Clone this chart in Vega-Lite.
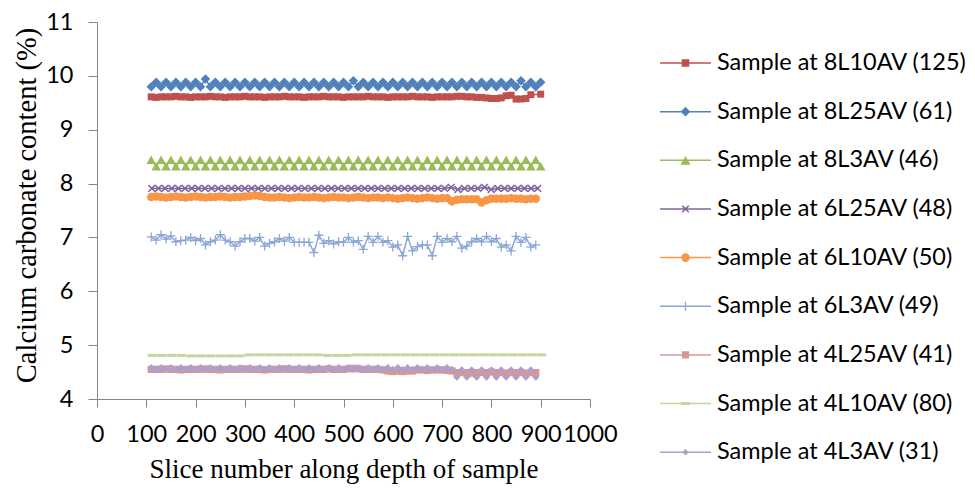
{
"$schema": "https://vega.github.io/schema/vega-lite/v6.json",
"width": 493, "height": 377,
"autosize": {"type": "none"},
"padding": {"left": 97, "top": 22, "right": 385, "bottom": 90},
"background": "white",
"config": {"view": {"stroke": null}},
"data": {"values": [
{"x":110,"a":9.61,"b":9.80,"c":8.44,"e":7.75,"f":7.01,"g":4.55,"i":4.58},
{"x":120,"a":9.60,"b":9.88,"c":8.32,"e":7.76,"f":6.95,"g":4.55,"i":4.55},
{"x":130,"a":9.61,"b":9.80,"c":8.44,"e":7.75,"f":7.05,"g":4.55,"i":4.58},
{"x":140,"a":9.61,"b":9.88,"c":8.32,"e":7.74,"f":6.97,"g":4.56,"i":4.55},
{"x":150,"a":9.61,"b":9.80,"c":8.44,"e":7.75,"f":7.03,"g":4.55,"i":4.58},
{"x":160,"a":9.62,"b":9.88,"c":8.32,"e":7.76,"f":6.92,"g":4.55,"i":4.55},
{"x":170,"a":9.61,"b":9.80,"c":8.44,"e":7.75,"f":6.94,"g":4.54,"i":4.58},
{"x":180,"a":9.61,"b":9.88,"c":8.32,"e":7.74,"f":6.95,"g":4.55,"i":4.55},
{"x":190,"a":9.60,"b":9.80,"c":8.44,"e":7.75,"f":7.00,"g":4.55,"i":4.58},
{"x":200,"a":9.61,"b":9.88,"c":8.32,"e":7.76,"f":6.94,"g":4.55,"i":4.55},
{"x":210,"a":9.61,"b":9.80,"c":8.44,"e":7.75,"f":6.98,"g":4.55,"i":4.58},
{"x":220,"a":9.61,"b":9.94,"c":8.32,"e":7.74,"f":6.86,"g":4.56,"i":4.55},
{"x":230,"a":9.62,"b":9.80,"c":8.44,"e":7.75,"f":6.92,"g":4.55,"i":4.58},
{"x":240,"a":9.61,"b":9.88,"c":8.32,"e":7.75,"f":6.95,"g":4.55,"i":4.55},
{"x":250,"a":9.61,"b":9.80,"c":8.44,"e":7.76,"f":7.05,"g":4.54,"i":4.58},
{"x":260,"a":9.60,"b":9.88,"c":8.32,"e":7.75,"f":6.95,"g":4.55,"i":4.55},
{"x":270,"a":9.61,"b":9.80,"c":8.44,"e":7.74,"f":6.92,"g":4.55,"i":4.58},
{"x":280,"a":9.61,"b":9.88,"c":8.32,"e":7.75,"f":6.84,"g":4.55,"i":4.55},
{"x":290,"a":9.61,"b":9.80,"c":8.44,"e":7.75,"f":6.92,"g":4.55,"i":4.58},
{"x":300,"a":9.62,"b":9.88,"c":8.32,"e":7.76,"f":6.98,"g":4.56,"i":4.55},
{"x":310,"a":9.61,"b":9.80,"c":8.44,"e":7.77,"f":6.98,"g":4.55,"i":4.58},
{"x":320,"a":9.61,"b":9.88,"c":8.32,"e":7.78,"f":6.93,"g":4.55,"i":4.55},
{"x":330,"a":9.61,"b":9.80,"c":8.44,"e":7.77,"f":7.00,"g":4.55,"i":4.58},
{"x":340,"a":9.60,"b":9.88,"c":8.32,"e":7.75,"f":6.84,"g":4.54,"i":4.55},
{"x":350,"a":9.61,"b":9.80,"c":8.44,"e":7.74,"f":6.89,"g":4.55,"i":4.58},
{"x":360,"a":9.61,"b":9.88,"c":8.32,"e":7.74,"f":6.92,"g":4.55,"i":4.55},
{"x":370,"a":9.61,"b":9.80,"c":8.44,"e":7.75,"f":6.98,"g":4.55,"i":4.58},
{"x":380,"a":9.62,"b":9.88,"c":8.32,"e":7.74,"f":6.93,"g":4.56,"i":4.55},
{"x":390,"a":9.61,"b":9.80,"c":8.44,"e":7.73,"f":7.00,"g":4.55,"i":4.58},
{"x":400,"a":9.61,"b":9.88,"c":8.32,"e":7.74,"f":6.91,"g":4.55,"i":4.55},
{"x":410,"a":9.61,"b":9.80,"c":8.44,"e":7.75,"f":6.91,"g":4.55,"i":4.58},
{"x":420,"a":9.60,"b":9.88,"c":8.32,"e":7.74,"f":6.91,"g":4.55,"i":4.55},
{"x":430,"a":9.61,"b":9.80,"c":8.44,"e":7.74,"f":6.91,"g":4.54,"i":4.58},
{"x":440,"a":9.61,"b":9.88,"c":8.32,"e":7.75,"f":6.72,"g":4.55,"i":4.55},
{"x":450,"a":9.61,"b":9.80,"c":8.44,"e":7.74,"f":7.04,"g":4.55,"i":4.58},
{"x":460,"a":9.62,"b":9.88,"c":8.32,"e":7.73,"f":6.89,"g":4.55,"i":4.55},
{"x":470,"a":9.61,"b":9.80,"c":8.44,"e":7.74,"f":6.94,"g":4.56,"i":4.58},
{"x":480,"a":9.61,"b":9.88,"c":8.32,"e":7.75,"f":6.88,"g":4.55,"i":4.55},
{"x":490,"a":9.61,"b":9.80,"c":8.44,"e":7.74,"f":6.92,"g":4.55,"i":4.58},
{"x":500,"a":9.60,"b":9.88,"c":8.32,"e":7.74,"f":6.91,"g":4.55,"i":4.55},
{"x":510,"a":9.61,"b":9.80,"c":8.44,"e":7.73,"f":7.00,"g":4.56,"i":4.58},
{"x":520,"a":9.61,"b":9.91,"c":8.32,"e":7.74,"f":6.91,"g":4.57,"i":4.55},
{"x":530,"a":9.61,"b":9.80,"c":8.44,"e":7.75,"f":6.94,"g":4.56,"i":4.58},
{"x":540,"a":9.61,"b":9.88,"c":8.32,"e":7.74,"f":6.78,"g":4.55,"i":4.55},
{"x":550,"a":9.62,"b":9.80,"c":8.44,"e":7.73,"f":7.02,"g":4.55,"i":4.58},
{"x":560,"a":9.61,"b":9.88,"c":8.32,"e":7.74,"f":6.91,"g":4.55,"i":4.55},
{"x":570,"a":9.61,"b":9.80,"c":8.44,"e":7.74,"f":7.02,"g":4.55,"i":4.58},
{"x":580,"a":9.61,"b":9.88,"c":8.32,"e":7.73,"f":6.91,"g":4.54,"i":4.55},
{"x":590,"a":9.60,"b":9.80,"c":8.44,"e":7.74,"f":6.94,"g":4.52,"i":4.58},
{"x":600,"a":9.61,"b":9.88,"c":8.32,"e":7.73,"f":6.82,"g":4.51,"i":4.55},
{"x":610,"a":9.61,"b":9.80,"c":8.44,"e":7.72,"f":6.86,"g":4.52,"i":4.58},
{"x":620,"a":9.61,"b":9.88,"c":8.32,"e":7.73,"f":6.66,"g":4.51,"i":4.55},
{"x":630,"a":9.61,"b":9.80,"c":8.44,"e":7.74,"f":7.02,"g":4.52,"i":4.58},
{"x":640,"a":9.62,"b":9.88,"c":8.32,"e":7.73,"f":6.75,"g":4.52,"i":4.55},
{"x":650,"a":9.61,"b":9.80,"c":8.44,"e":7.72,"f":6.83,"g":4.54,"i":4.58},
{"x":660,"a":9.61,"b":9.88,"c":8.32,"e":7.73,"f":6.86,"g":4.54,"i":4.55},
{"x":670,"a":9.61,"b":9.80,"c":8.44,"e":7.74,"f":6.86,"g":4.53,"i":4.58},
{"x":680,"a":9.60,"b":9.88,"c":8.32,"e":7.73,"f":6.66,"g":4.54,"i":4.55},
{"x":690,"a":9.61,"b":9.80,"c":8.44,"e":7.72,"f":7.02,"g":4.54,"i":4.58},
{"x":700,"a":9.61,"b":9.88,"c":8.32,"e":7.73,"f":6.91,"g":4.54,"i":4.55},
{"x":710,"a":9.61,"b":9.80,"c":8.44,"e":7.73,"f":6.98,"g":4.53,"i":4.58},
{"x":720,"a":9.61,"b":9.88,"c":8.32,"e":7.67,"f":6.92,"g":4.52,"i":4.55},
{"x":730,"a":9.62,"b":9.80,"c":8.44,"e":7.70,"f":7.02,"g":4.49,"i":4.41},
{"x":740,"a":9.62,"b":9.88,"c":8.32,"e":7.71,"f":6.80,"g":4.49,"i":4.54},
{"x":750,"a":9.61,"b":9.80,"c":8.44,"e":7.71,"f":6.84,"g":4.49,"i":4.41},
{"x":760,"a":9.61,"b":9.88,"c":8.32,"e":7.71,"f":6.92,"g":4.48,"i":4.54},
{"x":770,"a":9.60,"b":9.80,"c":8.44,"e":7.71,"f":6.98,"g":4.49,"i":4.41},
{"x":780,"a":9.60,"b":9.88,"c":8.32,"e":7.65,"f":6.92,"g":4.49,"i":4.54},
{"x":790,"a":9.59,"b":9.80,"c":8.44,"e":7.69,"f":7.02,"g":4.49,"i":4.41},
{"x":800,"a":9.58,"b":9.88,"c":8.32,"e":7.72,"f":6.92,"g":4.50,"i":4.54},
{"x":810,"a":9.58,"b":9.80,"c":8.44,"e":7.72,"f":6.98,"g":4.49,"i":4.41},
{"x":820,"a":9.59,"b":9.88,"c":8.32,"e":7.72,"f":6.82,"g":4.49,"i":4.54},
{"x":830,"a":9.63,"b":9.80,"c":8.44,"e":7.72,"f":6.86,"g":4.48,"i":4.41},
{"x":840,"a":9.64,"b":9.88,"c":8.32,"e":7.73,"f":6.75,"g":4.49,"i":4.54},
{"x":850,"a":9.57,"b":9.80,"c":8.44,"e":7.72,"f":7.02,"g":4.49,"i":4.41},
{"x":860,"a":9.57,"b":9.91,"c":8.32,"e":7.72,"f":6.91,"g":4.49,"i":4.54},
{"x":870,"a":9.58,"b":9.80,"c":8.44,"e":7.71,"f":7.00,"g":4.48,"i":4.41},
{"x":880,"a":9.65,"b":9.88,"c":8.32,"e":7.72,"f":6.82,"g":4.49,"i":4.54},
{"x":890,"b":9.80,"c":8.44,"e":7.72,"f":6.86,"g":4.49,"i":4.41},
{"x":900,"a":9.66,"b":9.88,"c":8.32},
{"x":111,"d":7.91},{"x":124.5,"d":7.91},{"x":138,"d":7.91},{"x":151.5,"d":7.91},{"x":165,"d":7.91},{"x":178.5,"d":7.91},{"x":192,"d":7.91},{"x":205.5,"d":7.91},{"x":219,"d":7.91},{"x":232.5,"d":7.91},{"x":246,"d":7.91},{"x":259.5,"d":7.91},{"x":273,"d":7.91},{"x":286.5,"d":7.91},{"x":300,"d":7.91},{"x":313.5,"d":7.91},{"x":327,"d":7.91},{"x":340.5,"d":7.91},{"x":354,"d":7.91},{"x":367.5,"d":7.91},{"x":381,"d":7.91},{"x":394.5,"d":7.91},{"x":408,"d":7.91},{"x":421.5,"d":7.91},{"x":435,"d":7.91},{"x":448.5,"d":7.91},{"x":462,"d":7.91},{"x":475.5,"d":7.91},{"x":489,"d":7.91},{"x":502.5,"d":7.91},{"x":516,"d":7.91},{"x":529.5,"d":7.91},{"x":543,"d":7.91},{"x":556.5,"d":7.91},{"x":570,"d":7.91},{"x":583.5,"d":7.91},{"x":597,"d":7.91},{"x":610.5,"d":7.91},{"x":624,"d":7.91},{"x":637.5,"d":7.91},{"x":651,"d":7.91},{"x":664.5,"d":7.91},{"x":678,"d":7.91},{"x":691.5,"d":7.91},{"x":705,"d":7.91},{"x":718.5,"d":7.93},{"x":732,"d":7.89},{"x":745.5,"d":7.91},{"x":759,"d":7.91},{"x":772.5,"d":7.91},{"x":786,"d":7.93},{"x":799.5,"d":7.89},{"x":813,"d":7.91},{"x":826.5,"d":7.91},{"x":840,"d":7.91},{"x":853.5,"d":7.91},{"x":867,"d":7.91},{"x":880.5,"d":7.91},{"x":894,"d":7.91},
{"x":112,"h":4.81},{"x":131.75,"h":4.81},{"x":151.5,"h":4.81},{"x":171.25,"h":4.81},{"x":191,"h":4.80},{"x":210.75,"h":4.80},{"x":230.5,"h":4.80},{"x":250.25,"h":4.80},{"x":270,"h":4.80},{"x":289.75,"h":4.80},{"x":309.5,"h":4.82},{"x":329.25,"h":4.82},{"x":349,"h":4.82},{"x":368.75,"h":4.82},{"x":388.5,"h":4.82},{"x":408.25,"h":4.82},{"x":428,"h":4.82},{"x":447.75,"h":4.82},{"x":467.5,"h":4.81},{"x":487.25,"h":4.81},{"x":507,"h":4.81},{"x":526.75,"h":4.82},{"x":546.5,"h":4.82},{"x":566.25,"h":4.82},{"x":586,"h":4.82},{"x":605.75,"h":4.82},{"x":625.5,"h":4.82},{"x":645.25,"h":4.82},{"x":665,"h":4.82},{"x":684.75,"h":4.82},{"x":704.5,"h":4.82},{"x":724.25,"h":4.82},{"x":744,"h":4.82},{"x":763.75,"h":4.82},{"x":783.5,"h":4.82},{"x":803.25,"h":4.82},{"x":823,"h":4.82},{"x":842.75,"h":4.82},{"x":862.5,"h":4.82},{"x":882.25,"h":4.82},{"x":902,"h":4.82}
]},
"transform": [
  {"fold": ["a","b","c","d","e","f","g","h","i"], "as": ["s","v"]},
  {"filter": "isValid(datum.v)"}
],
"encoding": {
  "x": {"field": "x", "type": "quantitative",
    "scale": {"domain": [0,1000], "nice": false},
    "axis": {"values": [0,100,200,300,400,500,600,700,800,900,1000], "format": "d", "title": "Slice number along depth of sample", "grid": false,
      "domainColor": "#868686", "tickColor": "#868686", "tickSize": 8, "domainWidth": 1, "tickWidth": 1,
      "labelFont": "Lato", "labelFontSize": 23.5, "labelColor": "#000", "labelPadding": 15, "labelFlush": false, "labelOverlap": false,
      "titleFont": "Liberation Serif", "titleFontSize": 27, "titleFontWeight": "normal", "titleColor": "#000", "titleBaseline": "alphabetic", "titleY": 78}},
  "y": {"field": "v", "type": "quantitative",
    "scale": {"domain": [4,11], "nice": false, "zero": false},
    "axis": {"values": [4,5,6,7,8,9,10,11], "title": "Calcium carbonate content (%)", "grid": false,
      "domainColor": "#868686", "tickColor": "#868686", "tickSize": 9, "domainWidth": 1, "tickWidth": 1,
      "labelFont": "Lato", "labelFontSize": 23.5, "labelColor": "#000", "labelPadding": 15, "labelFlush": false, "labelOverlap": false,
      "titleFont": "Liberation Serif", "titleFontSize": 28.5, "titleFontWeight": "normal", "titleColor": "#000", "titleBaseline": "alphabetic", "titleAngle": -90, "titleX": -62, "titleY": 183}},
  "color": {"field": "s", "type": "nominal",
    "scale": {"domain": ["a","b","c","d","e","f","g","h","i"], "range": ["#C0504D","#4F81BD","#9BBB59","#8064A2","#F79646","#8CA6D6","#D99694","#C3D69B","#AE9FCB"]},
    "legend": {"orient": "none", "legendX": 568.5, "legendY": 21, "title": null, "padding": 0,
      "labelFont": "Lato", "labelFontSize": 23.5, "labelColor": "#000", "labelLimit": 0, "labelOffset": 11.5, "rowPadding": 16.65,
      "symbolSize": 1600, "symbolStrokeWidth": 0,
      "labelExpr": "{'a':'Sample at 8L10AV (125)','b':'Sample at 8L25AV (61)','c':'Sample at 8L3AV (46)','d':'Sample at 6L25AV (48)','e':'Sample at 6L10AV (50)','f':'Sample at 6L3AV (49)','g':'Sample at 4L25AV (41)','h':'Sample at 4L10AV (80)','i':'Sample at 4L3AV (31)'}[datum.label]",
      "encode": {"symbols": {"update": {
        "shape": {"signal": "{'a':'M-1.275,-0.0375H1.275V0.0375H-1.275Z M-0.19,-0.19H0.19V0.19H-0.19Z','b':'M-1.275,-0.0375H1.275V0.0375H-1.275Z M0,-0.24L0.24,0L0,0.24L-0.24,0Z','c':'M-1.275,-0.0375H1.275V0.0375H-1.275Z M0,-0.22L0.25,0.22L-0.25,0.22Z','d':'M-1.275,-0.0375H1.275V0.0375H-1.275Z M-0.19,-0.135L-0.135,-0.19L0,-0.055L0.135,-0.19L0.19,-0.135L0.055,0L0.19,0.135L0.135,0.19L0,0.055L-0.135,0.19L-0.19,0.135L-0.055,0Z','e':'M-1.275,-0.0375H1.275V0.0375H-1.275Z M0.22,0L0.19,0.11L0.11,0.19L0,0.22L-0.11,0.19L-0.19,0.11L-0.22,0L-0.19,-0.11L-0.11,-0.19L0,-0.22L0.11,-0.19L0.19,-0.11Z','f':'M-1.275,-0.0375H1.275V0.0375H-1.275Z M-0.225,-0.0325H-0.0325V-0.225H0.0325V-0.0325H0.225V0.0325H0.0325V0.225H-0.0325V0.0325H-0.225Z','g':'M-1.275,-0.0375H1.275V0.0375H-1.275Z M-0.18,-0.18H0.18V0.18H-0.18Z','h':'M-1.275,-0.0375H1.275V0.0375H-1.275Z M-0.225,-0.075H0.225V0.075H-0.225Z','i':'M-1.275,-0.0375H1.275V0.0375H-1.275Z M0,-0.16L0.16,0L0,0.16L-0.16,0Z'}[datum.value]"},
        "opacity": {"value": 1}
      }}}
    }}
},
"layer": [
  {"mark": {"type": "line", "strokeWidth": 1.5}},
  {"transform": [{"filter": "datum.s === 'a'"}], "mark": {"type": "point", "filled": true, "size": 100, "opacity": 1, "shape": "M-0.7,-0.7H0.7V0.7H-0.7Z"}},
  {"transform": [{"filter": "datum.s === 'b'"}], "mark": {"type": "point", "filled": true, "size": 100, "opacity": 1, "shape": "M0,-0.95L0.95,0L0,0.95L-0.95,0Z"}},
  {"transform": [{"filter": "datum.s === 'c'"}], "mark": {"type": "point", "filled": true, "size": 100, "opacity": 1, "shape": "M0,-0.85L0.95,0.85L-0.95,0.85Z"}},
  {"transform": [{"filter": "datum.s === 'd'"}], "mark": {"type": "point", "filled": true, "size": 100, "opacity": 1, "shape": "M-0.78,-0.56L-0.56,-0.78L0,-0.22L0.56,-0.78L0.78,-0.56L0.22,0L0.78,0.56L0.56,0.78L0,0.22L-0.56,0.78L-0.78,0.56L-0.22,0Z"}},
  {"transform": [{"filter": "datum.s === 'e'"}], "mark": {"type": "point", "filled": true, "size": 100, "opacity": 1, "shape": "M0.86,0L0.745,0.43L0.43,0.745L0,0.86L-0.43,0.745L-0.745,0.43L-0.86,0L-0.745,-0.43L-0.43,-0.745L0,-0.86L0.43,-0.745L0.745,-0.43Z"}},
  {"transform": [{"filter": "datum.s === 'f'"}], "mark": {"type": "point", "filled": true, "size": 100, "opacity": 1, "shape": "M-0.9,-0.13H-0.13V-0.9H0.13V-0.13H0.9V0.13H0.13V0.9H-0.13V0.13H-0.9Z"}},
  {"transform": [{"filter": "datum.s === 'g'"}], "mark": {"type": "point", "filled": true, "size": 100, "opacity": 1, "shape": "M-0.72,-0.72H0.72V0.72H-0.72Z"}},
  {"transform": [{"filter": "datum.s === 'h'"}], "mark": {"type": "point", "filled": true, "size": 100, "opacity": 1, "shape": "M-0.9,-0.3H0.9V0.3H-0.9Z"}},
  {"transform": [{"filter": "datum.s === 'i'"}], "mark": {"type": "point", "filled": true, "size": 100, "opacity": 1, "shape": "M0,-0.75L0.75,0L0,0.75L-0.75,0Z"}}
]
}
